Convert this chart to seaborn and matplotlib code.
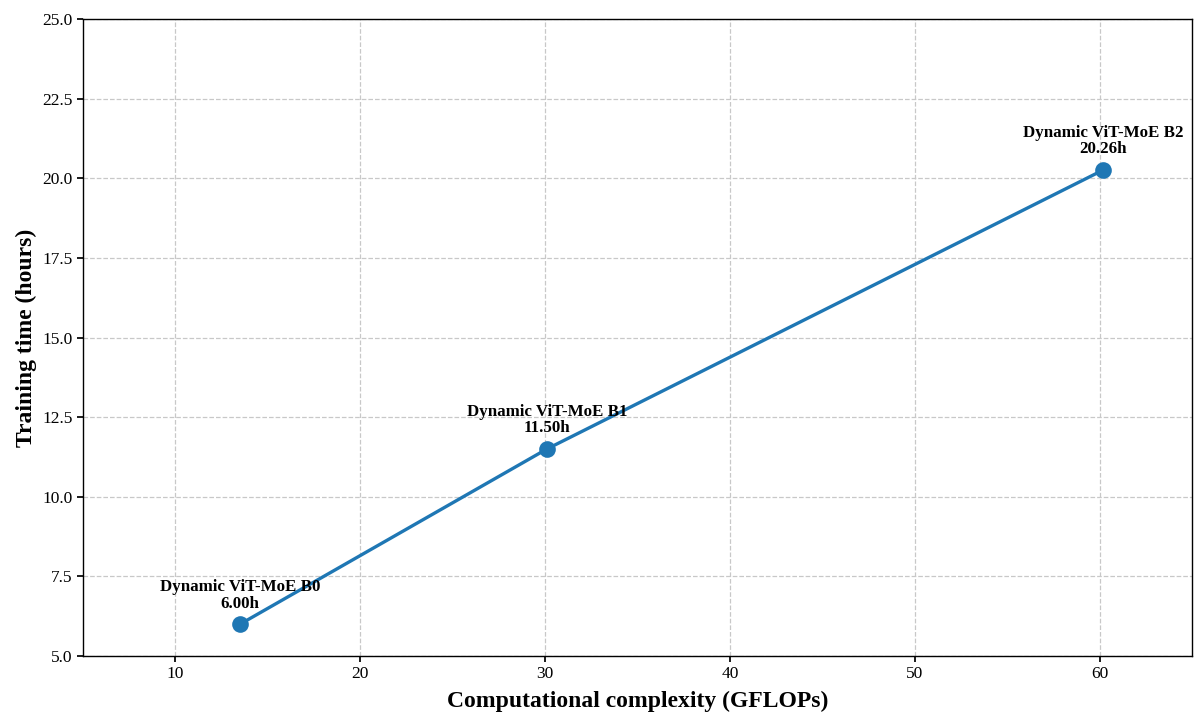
import matplotlib
matplotlib.use("Agg")
import matplotlib.pyplot as plt
import seaborn as sns
import pandas as pd

models = ["Dynamic ViT-MoE B0", "Dynamic ViT-MoE B1", "Dynamic ViT-MoE B2"]
gflops = [13.5, 30.1, 60.2]
hours = [6.00, 11.50, 20.26]

sns.set_theme(style="ticks")
plt.rcParams['font.family'] = ['Liberation Serif', 'DejaVu Serif']
plt.rcParams['text.color'] = 'black'
plt.rcParams['axes.labelcolor'] = 'black'
plt.rcParams['xtick.color'] = 'black'
plt.rcParams['ytick.color'] = 'black'

df = pd.DataFrame({"model": models, "gflops": gflops, "hours": hours})

fig = plt.figure(figsize=(11.94, 7.13), dpi=100)
ax = fig.add_axes([83/1194, 1 - 656/713, (1192 - 83)/1194, (656 - 19)/713])

sns.lineplot(data=df, x="gflops", y="hours", ax=ax, color="#1f77b4",
             linewidth=2.4, marker="o", markersize=12, markeredgewidth=0)

for m, x, y in zip(models, gflops, hours):
    ax.annotate(f"{m}\n{y:.2f}h", (x, y), xytext=(0, 9), textcoords="offset points",
                ha="center", va="bottom", fontsize=12.2, fontweight="bold",
                linespacing=1.05, color="black")

ax.set_xlim(5, 65)
ax.set_ylim(5, 25)
yt = [5, 7.5, 10, 12.5, 15, 17.5, 20, 22.5, 25]
ax.set_yticks(yt)
ax.set_yticklabels([f"{v:.1f}" for v in yt])
ax.set_xticks([10, 20, 30, 40, 50, 60])
ax.grid(True, linestyle="--", color="#c8c8c8", linewidth=0.9)
ax.set_axisbelow(True)
for s in ax.spines.values():
    s.set_visible(True)
    s.set_color("black")
    s.set_linewidth(1.0)
ax.tick_params(labelsize=12.5, colors="black", length=4)
ax.set_xlabel("Computational complexity (GFLOPs)", fontsize=17, fontweight="bold", labelpad=6)
ax.set_ylabel("Training time (hours)", fontsize=17, fontweight="bold", labelpad=4)

fig.savefig("out.png", dpi=100)
